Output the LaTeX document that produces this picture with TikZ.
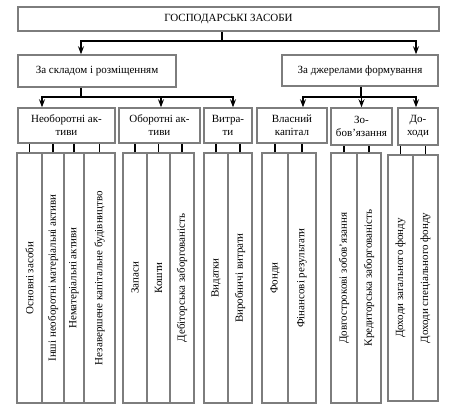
\documentclass[tikz,border=0pt]{standalone}
\usepackage{fontspec}
\setmainfont{Liberation Serif}
\usetikzlibrary{arrows.meta}
\begin{document}
\begin{tikzpicture}[x=1pt,y=-1pt,
  box/.style={draw=boxgray, line width=1.5pt, fill=white, inner sep=1pt, align=center, font=\fontsize{11}{13}\selectfont},
  col/.style={draw=boxgray, line width=1.5pt, fill=white, inner sep=0pt, rotate=90, minimum width=250pt, font=\fontsize{11}{13}\selectfont},
  conn/.style={line width=1.1pt, black},
  arr/.style={conn, -{Stealth[length=8pt,width=6pt]}}
]
\definecolor{boxgray}{RGB}{125,125,125}
\useasboundingbox (0,0) rectangle (455,413);
\fill[white] (0,0) rectangle (455,413);

% level 1
\node[box, minimum width=421pt, minimum height=24pt] (T) at (228.5,19) {ГОСПОДАРСЬКІ ЗАСОБИ};
% level 2
\node[box, minimum width=158pt, minimum height=32pt] (L) at (97,71) {За складом і розміщенням};
\node[box, minimum width=156pt, minimum height=31pt] (R) at (360,70.5) {За джерелами формування};
% level 3
\node[box, minimum width=97pt, minimum height=35pt] (A) at (66.5,125.5) {Необоротні ак-\\тиви};
\node[box, minimum width=81pt, minimum height=35pt] (B) at (159.5,125.5) {Оборотні ак-\\тиви};
\node[box, minimum width=48pt, minimum height=35pt] (C) at (228,125.5) {Витра-\\ти};
\node[box, minimum width=70pt, minimum height=35pt] (D) at (292,125.5) {Власний\\капітал};
\node[box, minimum width=61pt, minimum height=37pt] (E) at (361.5,126.5) {Зо-\\бов’язання};
\node[box, minimum width=40pt, minimum height=37pt] (F) at (418,126.5) {До-\\ходи};

% level 4
\node[col, minimum height=25pt] (A1) at (29.5,278) {Основні засоби};
\node[col, minimum height=22pt] (A2) at (53,278) {Інші необоротні матеріальні активи};
\node[col, minimum height=20pt] (A3) at (74,278) {Нематеріальні активи};
\node[col, minimum height=31pt] (A4) at (99.5,278) {Незавершене капітальне будівництво};
\node[col, minimum height=24pt] (B1) at (135,278) {Запаси};
\node[col, minimum height=23pt] (B2) at (158.5,278) {Кошти};
\node[col, minimum height=24pt] (B3) at (182,278) {Дебіторська заборгованість};
\node[col, minimum height=24pt] (C1) at (216,278) {Видатки};
\node[col, minimum height=24pt] (C2) at (240,278) {Виробничі витрати};
\node[col, minimum height=26pt] (D1) at (275,278) {Фонди};
\node[col, minimum height=28pt] (D2) at (302,278) {Фінансові результати};
\node[col, minimum height=26pt] (E1) at (344,278) {Довгострокові зобов’язання};
\node[col, minimum height=24pt] (E2) at (369,278) {Кредиторська заборгованість};
\node[col, minimum height=25pt, minimum width=246pt] (F1) at (400.5,278) {Доходи загального фонду};
\node[col, minimum height=25pt, minimum width=246pt] (F2) at (425.5,278) {Доходи спеціального фонду};

% connectors level 1 -> 2
\coordinate (j0) at (222,41);
\draw[conn] (T.south -| j0) -- (j0);
\draw[arr] (j0) -| ([xshift=-16pt]L.north);
\draw[arr] (j0) -| ([xshift=56pt]R.north);

% connectors level 2 -> 3
\coordinate (jL) at (81,97);
\draw[conn] (L.south -| jL) -- (jL);
\draw[arr] (jL) -| ([xshift=-24.5pt]A.north);
\draw[arr] (jL) -| ([xshift=1.5pt]B.north);
\draw[arr] (jL) -| ([xshift=5pt]C.north);
\coordinate (jR) at (361,97);
\draw[conn] (R.south -| jR) -- (jR);
\draw[arr] (jR) -| ([xshift=11pt]D.north);
\draw[arr] (jR) -| (E.north);
\draw[arr] (jR) -| ([xshift=-2pt]F.north);

% ticks level 3 -> 4
\foreach \p/\c in {A/A1,A/A2,A/A3,A/A4,B/B1,B/B2,B/B3,C/C1,C/C2,D/D1,D/D2,E/E1,E/E2,F/F1,F/F2}
  \draw[conn] (\c.east) -- (\c.east |- \p.south);
\end{tikzpicture}
\end{document}
